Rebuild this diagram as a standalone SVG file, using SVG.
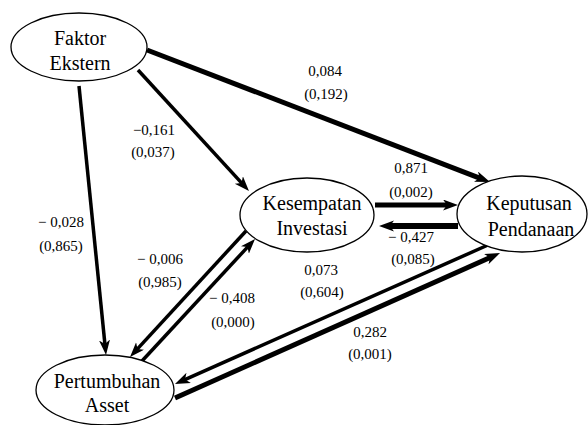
<svg xmlns="http://www.w3.org/2000/svg" width="588" height="425" viewBox="0 0 588 425">
<style>
.node ellipse{fill:#fff;stroke:#000;stroke-width:1.3}
.nl{font-family:"Liberation Serif","Times New Roman",serif;font-size:20px;fill:#000;text-anchor:middle}
.el{font-family:"Liberation Serif","Times New Roman",serif;font-size:15px;fill:#000;text-anchor:middle}
.ed line{stroke:#000;fill:none;marker-end:url(#ah)}
</style>
<defs>
<marker id="ah" markerUnits="userSpaceOnUse" markerWidth="16" markerHeight="12" refX="6" refY="5.5" orient="auto" viewBox="0 0 16 12">
<path d="M0,0 L15,5.5 L0,11 L4,5.5 z" fill="#000"/>
</marker>
</defs>
<rect width="588" height="425" fill="#fff"/>
<g id="connectors" class="ed">
<line x1="147" y1="50" x2="481.6" y2="178.8" stroke-width="5"/>
<line x1="138" y1="70" x2="242.9" y2="184.4" stroke-width="3.5"/>
<line x1="79" y1="86" x2="105.1" y2="346" stroke-width="3.5"/>
<line x1="375" y1="205" x2="449" y2="205" stroke-width="5"/>
<line x1="458" y1="226" x2="388" y2="226" stroke-width="6"/>
<line x1="246" y1="231" x2="136.1" y2="350.4" stroke-width="3.5"/>
<line x1="142" y1="361" x2="248.9" y2="245.6" stroke-width="3.5"/>
<line x1="488" y1="245" x2="183.2" y2="380.3" stroke-width="3.5"/>
<line x1="175" y1="398" x2="491.8" y2="256.7" stroke-width="5"/>
</g>
<g id="faktor-ekstern" class="node">
<ellipse cx="79" cy="47" rx="68" ry="34"/>
<text class="nl" x="80" y="45">Faktor</text>
<text class="nl" x="80" y="70">Ekstern</text>
</g>
<g id="kesempatan-investasi" class="node">
<ellipse cx="307" cy="215" rx="67" ry="37"/>
<text class="nl" x="312" y="210">Kesempatan</text>
<text class="nl" x="312" y="235">Investasi</text>
</g>
<g id="keputusan-pendanaan" class="node">
<ellipse cx="522" cy="214" rx="65" ry="38"/>
<text class="nl" x="529" y="210">Keputusan</text>
<text class="nl" x="531" y="236">Pendanaan</text>
</g>
<g id="pertumbuhan-asset" class="node">
<ellipse cx="105" cy="390" rx="69" ry="35"/>
<text class="nl" x="107" y="388">Pertumbuhan</text>
<text class="nl" x="107" y="412">Asset</text>
</g>
<g id="edge-labels">
<text class="el" x="325" y="76">0,084</text>
<text class="el" x="326" y="99">(0,192)</text>
<text class="el" x="154" y="135">−0,161</text>
<text class="el" x="153" y="157">(0,037)</text>
<text class="el" x="411" y="173">0,871</text>
<text class="el" x="411" y="197">(0,002)</text>
<text class="el" x="411" y="242">− 0,427</text>
<text class="el" x="413" y="264">(0,085)</text>
<text class="el" x="321" y="275">0,073</text>
<text class="el" x="322" y="297">(0,604)</text>
<text class="el" x="370" y="337">0,282</text>
<text class="el" x="370" y="359">(0,001)</text>
<text class="el" x="61" y="227">− 0,028</text>
<text class="el" x="61" y="251">(0,865)</text>
<text class="el" x="160" y="264">− 0,006</text>
<text class="el" x="160" y="287">(0,985)</text>
<text class="el" x="232" y="303">− 0,408</text>
<text class="el" x="233" y="327">(0,000)</text>
</g>
</svg>
